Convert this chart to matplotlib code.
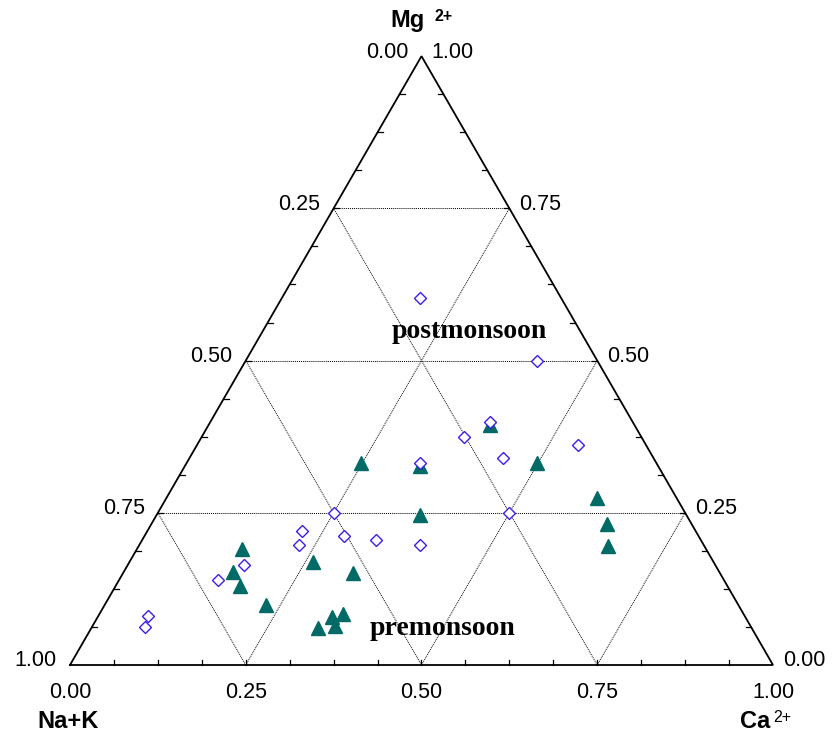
import numpy as np
import matplotlib
matplotlib.use("Agg")
import matplotlib.pyplot as plt

# ternary fractions: Ca2+ and Mg2+ (Na+K = 1 - Ca - Mg)
post_ca = [0.197, 0.414, 0.398, 0.373, 0.332, 0.446, 0.542, 0.250, 0.500,
           0.220, 0.227, 0.284, 0.332, 0.399, 0.165, 0.141, 0.070, 0.075]
post_mg = [0.602, 0.500, 0.399, 0.374, 0.332, 0.340, 0.362, 0.250, 0.250,
           0.220, 0.197, 0.212, 0.206, 0.197, 0.164, 0.139, 0.081, 0.063]

pre_ca = [0.400, 0.248, 0.334, 0.499, 0.374, 0.612, 0.648, 0.667, 0.149,
          0.155, 0.177, 0.229, 0.261, 0.327, 0.333, 0.346, 0.345, 0.322]
pre_mg = [0.395, 0.331, 0.327, 0.331, 0.247, 0.275, 0.232, 0.196, 0.191,
          0.153, 0.130, 0.099, 0.169, 0.151, 0.079, 0.084, 0.064, 0.061]

tick_vals = [0.0, 0.25, 0.5, 0.75, 1.0]
tick_text = ["0.00", "0.25", "0.50", "0.75", "1.00"]

H = np.sqrt(3) / 2


def tern(ca, mg):
    ca = np.asarray(ca, dtype=float)
    mg = np.asarray(mg, dtype=float)
    return ca + mg / 2, mg * H


fig = plt.figure(figsize=(8.35, 7.4), dpi=100)
ax = fig.add_axes([0, 0, 1, 1])
ax.set_xlim(-70 / 703, 765 / 703)
ax.set_ylim(-75 / 703, 665 / 703)
ax.axis("off")

sans = "Liberation Sans"
serif = "Liberation Serif"

# grid lines
for v in [0.25, 0.5, 0.75]:
    for (c0, m0), (c1, m1) in [((0, v), (1 - v, v)),
                               ((v, 0), (v, 1 - v)),
                               ((1 - v, 0), (0, 1 - v))]:
        x, y = tern([c0, c1], [m0, m1])
        ax.plot(x, y, color="black", lw=0.7, ls=(0, (1, 1)), zorder=1)

# triangle frame
x, y = tern([0, 1, 0, 0], [0, 0, 1, 0])
ax.plot(x, y, color="black", lw=1.3, zorder=2, solid_joinstyle="miter")

# small inward ticks every 1/16
tl = 5 / 703
for k in range(1, 16):
    f = k / 16
    bx, by = tern(f, 0)
    ax.plot([bx, bx], [by, by + tl], color="black", lw=0.9, zorder=2)
    rx, ry = tern(1 - f, f)
    ax.plot([rx, rx - tl], [ry, ry], color="black", lw=0.9, zorder=2)
    lx, ly = tern(0, f)
    ax.plot([lx, lx + tl], [ly, ly], color="black", lw=0.9, zorder=2)

# tick labels
for v, t in zip(tick_vals, tick_text):
    # bottom: Ca
    px, py = tern(v, 0)
    ax.annotate(t, (px, py), xytext=(0, -27), textcoords="offset pixels",
                ha="center", va="center", fontsize=15.5, family=sans)
    # right: Mg
    px, py = tern(1 - v, v)
    ax.annotate(t, (px, py), xytext=(10, 4), textcoords="offset pixels",
                ha="left", va="center", fontsize=15.5, family=sans)
    # left: Na+K (0 at top, 1 at bottom-left)
    px, py = tern(0, 1 - v)
    ax.annotate(t, (px, py), xytext=(-13, 4), textcoords="offset pixels",
                ha="right", va="center", fontsize=15.5, family=sans)

# component labels
tx, ty = tern(0, 1)
ax.annotate("Mg", (tx, ty), xytext=(-14, 36), textcoords="offset pixels",
            ha="center", va="center", fontsize=17, fontweight="bold", family=sans)
ax.annotate("2+", (tx, ty), xytext=(22, 40), textcoords="offset pixels",
            ha="center", va="center", fontsize=11.5, fontweight="bold", family=sans)
ax.annotate("Na+K", (0, 0), xytext=(-2, -57), textcoords="offset pixels",
            ha="center", va="center", fontsize=17, fontweight="bold", family=sans)
ax.annotate("Ca", (1, 0), xytext=(-18, -57), textcoords="offset pixels",
            ha="center", va="center", fontsize=17, fontweight="bold", family=sans)
ax.annotate("2+", (1, 0), xytext=(9, -52), textcoords="offset pixels",
            ha="center", va="center", fontsize=11.5, family=sans)

# data
x, y = tern(pre_ca, pre_mg)
ax.plot(x, y, ls="none", marker="^", ms=9.5, color="#006B66", zorder=3)
x, y = tern(post_ca, post_mg)
ax.plot(x, y, ls="none", marker="D", ms=6.6, mfc="white", mec="#3C1EE6",
        mew=1.0, zorder=4)

# season labels
ax.text((469 - 70) / 703, (665 - 338) / 703, "postmonsoon", ha="center",
        va="baseline", fontsize=20, fontweight="bold", family=serif, zorder=5)
ax.text((443 - 70) / 703, (665 - 635) / 703, "premonsoon", ha="center",
        va="baseline", fontsize=20, fontweight="bold", family=serif, zorder=5)

fig.savefig("out.png", dpi=100)
